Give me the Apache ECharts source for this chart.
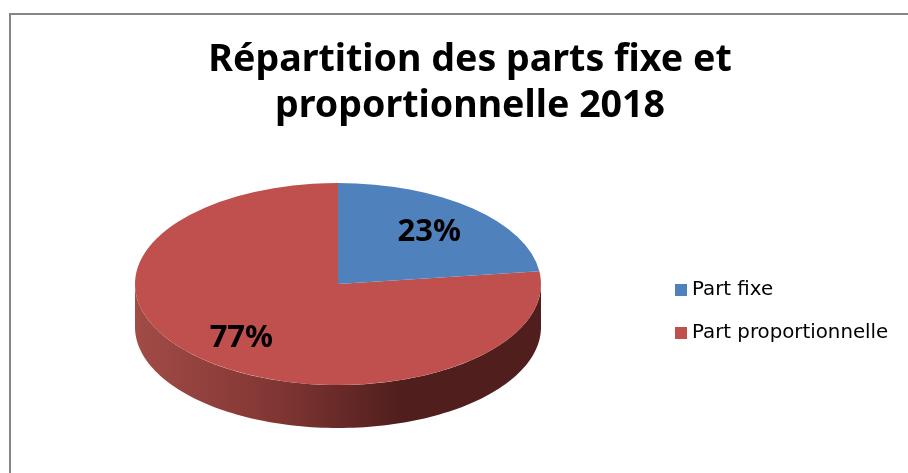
<!DOCTYPE html>
<html><head><meta charset="utf-8">
<style>html,body{margin:0;padding:0;background:#fff}#c{width:908px;height:473px}</style>
<script src="https://cdn.jsdelivr.net/npm/echarts@6/dist/echarts.min.js"></script>
</head><body><div id="c"></div>
<script>
const titleText = "Répartition des parts fixe et\nproportionnelle 2018";
const categories = ["Part fixe", "Part proportionnelle"];
const values = [23, 77];
const colors = ["#4f81bd", "#c0504d"];

const total = values.reduce((a, b) => a + b, 0);
const CX = 338, CY = 284, RX = 203, RY = 101, DEPTH = 43;
const LABEL_RADIUS = [0.68, 0.72];

function renderSlice(index) {
  return function () {
    const before = values.slice(0, index).reduce((a, b) => a + b, 0);
    const t0 = before / total * 2 * Math.PI;
    const t1 = (before + values[index]) / total * 2 * Math.PI;
    const children = [];
    const a = Math.max(t0, Math.PI / 2), b = Math.min(t1, 3 * Math.PI / 2);
    if (b > a) {
      const top = [], bottom = [];
      for (let i = 0; i <= 120; i++) {
        const t = a + (b - a) * i / 120;
        const x = CX + RX * Math.sin(t), y = CY - RY * Math.cos(t);
        top.push([x, y]);
        bottom.unshift([x, y + DEPTH]);
      }
      children.push({
        type: 'polygon',
        shape: { points: top.concat(bottom) },
        style: {
          fill: new echarts.graphic.LinearGradient(0, 0, 1, 0, [
            { offset: 0, color: '#a24b47' },
            { offset: 0.35, color: '#813633' },
            { offset: 0.66, color: '#4f1e1d' },
            { offset: 1, color: '#4f1e1d' }
          ])
        }
      });
    }
    children.push({
      type: 'sector',
      x: CX, y: CY, scaleX: 1, scaleY: RY / RX,
      shape: { cx: 0, cy: 0, r0: 0, r: RX,
        startAngle: t0 - Math.PI / 2, endAngle: t1 - Math.PI / 2, clockwise: true },
      style: { fill: colors[index] }
    });
    const mid = (t0 + t1) / 2;
    children.push({
      type: 'text',
      z2: 10,
      style: {
        x: CX + LABEL_RADIUS[index] * RX * Math.sin(mid),
        y: CY - LABEL_RADIUS[index] * RY * Math.cos(mid),
        text: Math.round(values[index] / total * 100) + '%',
        align: 'center', verticalAlign: 'middle',
        font: 'bold 31px "Noto Sans", sans-serif',
        fill: '#000'
      }
    });
    return { type: 'group', children };
  };
}

const chart = echarts.init(document.getElementById('c'), null, { renderer: 'canvas' });
chart.setOption({
  animation: false,
  backgroundColor: '#fff',
  title: {
    text: titleText, left: 465, top: 32, textAlign: 'center',
    textStyle: { fontFamily: '"Noto Sans", sans-serif', fontWeight: 'bold', fontSize: 37.6, lineHeight: 46, color: '#000' }
  },
  legend: {
    data: categories, orient: 'vertical', left: 675, top: 280, padding: 0,
    icon: 'rect', itemWidth: 12, itemHeight: 12, itemGap: 23, itemStyle: { borderWidth: 0 },
    textStyle: { fontFamily: '"DejaVu Sans", sans-serif', fontSize: 19.8, color: '#000' }
  },
  graphic: [{
    type: 'polyline', silent: true,
    shape: { points: [[10, 480], [10, 14], [915, 14]] },
    style: { stroke: '#868686', lineWidth: 2, fill: null }
  }],
  series: categories.map((name, i) => ({
    type: 'custom', name, coordinateSystem: 'none',
    itemStyle: { color: colors[i] },
    z: i === 1 ? 2 : 3,
    data: [values[i]],
    renderItem: renderSlice(i)
  }))
});
</script></body></html>
